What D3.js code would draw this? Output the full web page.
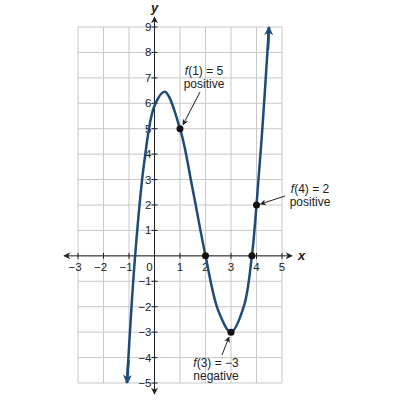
<!DOCTYPE html>
<html><head><meta charset="utf-8">
<script src="https://cdn.jsdelivr.net/npm/d3@7"></script>
<style>body{margin:0;background:#fff}text{font-family:"Liberation Sans",Arial,sans-serif;font-size:11.5px;fill:#222}</style>
</head><body>
<script>
// curve points
const curveX = [-1.08, -0.76, -0.4, 0, 0.4, 1, 1.5, 2, 2.5, 3, 3.5, 3.82, 4, 4.25, 4.49];
const curveY = [-5, 0, 3.7, 5.9, 6.45, 5, 2.6, 0, -2.15, -3, -2.0, 0, 2, 5.3, 9];
const dotX = [1, 2, 3, 3.82, 4];
const dotY = [5, 0, -3, 0, 2];
const xTicks = [-3, -2, -1, 0, 1, 2, 3, 4, 5];
const yTicks = [-5, -4, -3, -2, -1, 1, 2, 3, 4, 5, 6, 7, 8, 9];

const W = 400, H = 400;
const svg = d3.select("body").append("svg").attr("width", W).attr("height", H);
const x = d3.scaleLinear().domain([-3, 5]).range([78, 282]);
const y = d3.scaleLinear().domain([-5, 9]).range([383, 27]);
const blue = "#1d4b7a";

const defs = svg.append("defs");
function marker(id, col, w, h) {
  defs.append("marker").attr("id", id).attr("viewBox", "0 0 10 10").attr("refX", 9).attr("refY", 5)
    .attr("markerWidth", w).attr("markerHeight", h).attr("markerUnits", "userSpaceOnUse").attr("orient", "auto")
    .append("path").attr("d", "M0,0 L10,5 L0,10 L3,5 Z").attr("fill", col);
}
marker("ax", "#222", 9, 7);
marker("cv", blue, 11, 9);
marker("an", "#222", 7, 6);

// grid
for (let v = -3; v <= 5; v++)
  svg.append("line").attr("x1", x(v)).attr("x2", x(v)).attr("y1", y(-5)).attr("y2", y(9)).attr("stroke", "#c8c8c8");
for (let v = -5; v <= 9; v++)
  svg.append("line").attr("y1", y(v)).attr("y2", y(v)).attr("x1", x(-3)).attr("x2", x(5)).attr("stroke", "#c8c8c8");

// axes with arrows at both ends
svg.append("line").attr("x1", x(0)).attr("x2", 64).attr("y1", y(0)).attr("y2", y(0)).attr("stroke", "#222").attr("marker-end", "url(#ax)");
svg.append("line").attr("x1", x(0)).attr("x2", 292).attr("y1", y(0)).attr("y2", y(0)).attr("stroke", "#222").attr("marker-end", "url(#ax)");
svg.append("line").attr("y1", y(0)).attr("y2", 17).attr("x1", x(0)).attr("x2", x(0)).attr("stroke", "#222").attr("marker-end", "url(#ax)");
svg.append("line").attr("y1", y(0)).attr("y2", 394).attr("x1", x(0)).attr("x2", x(0)).attr("stroke", "#222").attr("marker-end", "url(#ax)");
svg.append("text").attr("x", 298).attr("y", y(0) + 4).attr("font-style", "italic").attr("font-weight", "bold").style("font-size", "13px").text("x");
svg.append("text").attr("x", x(0)).attr("y", 12).attr("text-anchor", "middle").attr("font-style", "italic").attr("font-weight", "bold").style("font-size", "13px").text("y");

const fmt = v => v < 0 ? "\u2212" + Math.abs(v) : String(v);
xTicks.forEach(v => {
  svg.append("line").attr("x1", x(v)).attr("x2", x(v)).attr("y1", y(0) - 3).attr("y2", y(0) + 3).attr("stroke", "#222");
  svg.append("text").attr("x", x(v) - (v === 0 ? 5 : v < 0 ? 3 : 0)).attr("y", y(0) + 15).attr("text-anchor", "middle").text(fmt(v));
});
yTicks.forEach(v => {
  svg.append("line").attr("x1", x(0) - 3).attr("x2", x(0) + 3).attr("y1", y(v)).attr("y2", y(v)).attr("stroke", "#222");
  svg.append("text").attr("x", x(0) - 3).attr("y", y(v) + 4).attr("text-anchor", "end").text(fmt(v));
});

// curve
const pts = curveX.map((v, i) => [v, curveY[i]]);
const line = d3.line().x(d => x(d[0])).y(d => y(d[1])).curve(d3.curveCatmullRom.alpha(0.5));
svg.append("path").datum(pts).attr("d", line).attr("fill", "none").attr("stroke", blue).attr("stroke-width", 2.5);
// arrows at both curve ends
svg.append("line").attr("x1", x(-1.02)).attr("y1", y(-4.1)).attr("x2", x(-1.08)).attr("y2", y(-5)).attr("stroke", blue).attr("stroke-width", 2.5).attr("marker-end", "url(#cv)");
svg.append("line").attr("x1", x(4.45)).attr("y1", y(8.1)).attr("x2", x(4.49)).attr("y2", y(9)).attr("stroke", blue).attr("stroke-width", 2.5).attr("marker-end", "url(#cv)");

svg.selectAll(".dot").data(dotX).enter().append("circle")
  .attr("cx", d => x(d)).attr("cy", (d, i) => y(dotY[i])).attr("r", 3.5).attr("fill", "#111");

// annotations
function note(lines, tx, ty, ax1, ay1, ax2, ay2) {
  const t = svg.append("text").attr("x", tx).attr("y", ty).attr("text-anchor", "middle").style("font-size", "12px");
  lines.forEach((l, i) => {
    const ts = t.append("tspan").attr("x", tx).attr("dy", i ? 13 : 0);
    if (i === 0) {
      ts.append("tspan").attr("font-style", "italic").text("f");
      ts.append("tspan").text(l);
    } else ts.text(l);
  });
  svg.append("line").attr("x1", ax1).attr("y1", ay1).attr("x2", ax2).attr("y2", ay2).attr("stroke", "#222").attr("marker-end", "url(#an)");
}
note(["(1) = 5", "positive"], 204, 75, 200, 92, x(1) + 3, y(5) - 4);
note(["(4) = 2", "positive"], 310, 193, 285, 196, x(4) + 4, y(2) - 1);
note(["(3) = \u22123", "negative"], 216, 367, 222, 355, x(3) - 2, y(-3) + 5);
</script>
</body></html>
